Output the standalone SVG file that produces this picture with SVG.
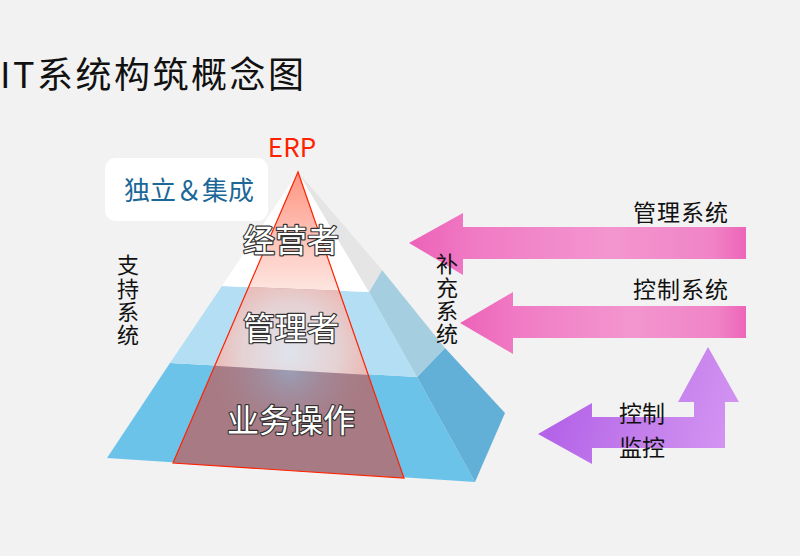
<svg xmlns="http://www.w3.org/2000/svg" width="800" height="556" viewBox="0 0 800 556">
<defs>
<style>
.cjk{font-family:"Noto Sans CJK SC","Noto Sans",sans-serif;}
.dark{fill:#111;}
.lvl{fill:#fff;stroke:#333;stroke-width:2.4;paint-order:stroke;stroke-linejoin:round;font-size:32px;text-anchor:middle;}
.side{font-size:22px;fill:#111;writing-mode:vertical-rl;letter-spacing:1.3px;}
.lbl{font-size:23px;fill:#111;}
</style>
<linearGradient id="pink" x1="0" y1="0" x2="1" y2="0">
<stop offset="0" stop-color="#ec62b8"/>
<stop offset="0.2" stop-color="#f07bc4"/>
<stop offset="0.6" stop-color="#f396cf"/>
<stop offset="0.9" stop-color="#f083c6"/>
<stop offset="1" stop-color="#ed65b9"/>
</linearGradient>
<linearGradient id="purple" gradientUnits="userSpaceOnUse" x1="560" y1="400" x2="730" y2="460">
<stop offset="0" stop-color="#b463e8"/>
<stop offset="0.5" stop-color="#c47fec"/>
<stop offset="1" stop-color="#d496f2"/>
</linearGradient>
<linearGradient id="topG" gradientUnits="userSpaceOnUse" x1="0" y1="172" x2="0" y2="290">
<stop offset="0" stop-color="#ff9581"/>
<stop offset="0.55" stop-color="#fdc3b8"/>
<stop offset="1" stop-color="#fde5e0"/>
</linearGradient>
<radialGradient id="midG" gradientUnits="userSpaceOnUse" cx="290" cy="352" r="105">
<stop offset="0" stop-color="#dfe3ec"/>
<stop offset="0.45" stop-color="#e5d2d4"/>
<stop offset="1" stop-color="#eea59b"/>
</radialGradient>
<radialGradient id="botG" gradientUnits="userSpaceOnUse" cx="290" cy="368" r="90">
<stop offset="0" stop-color="#98a4bf" stop-opacity="0.9"/>
<stop offset="1" stop-color="#a87a83" stop-opacity="0"/>
</radialGradient>
<clipPath id="tri"><polygon points="298,172 173,463 404,478"/></clipPath>
</defs>
<rect width="800" height="556" fill="#f2f2f2"/>

<text id="title" class="cjk dark" x="0" y="88" font-size="36" letter-spacing="2.5">IT系统构筑概念图</text>

<g id="pyramid">
<polygon points="170,363 417,377 475,482 107,458" fill="#6bc3ea"/>
<polygon points="417,377 445,348 505,413 475,482" fill="#62b0d8"/>
<polygon points="222,286 369,292 417,377 170,363" fill="#b4def3"/>
<polygon points="369,292 382,270 445,348 417,377" fill="#a5cfe0"/>
<polygon points="298,172 369,292 222,286" fill="#ffffff"/>
<polygon points="298,172 382,270 369,292" fill="#e5e5e5"/>
</g>

<g id="erp-triangle">
<g clip-path="url(#tri)">
<rect x="150" y="160" width="280" height="330" fill="#a87a83"/>
<polygon points="150,362 420,378 420,430 150,430" fill="url(#botG)"/>
<polygon points="150,283 420,294 420,378 150,362" fill="url(#midG)"/>
<polygon points="150,160 420,160 420,294 150,283" fill="url(#topG)"/>
</g>
<polygon points="298,172 173,463 404,478" fill="none" stroke="#ff2200" stroke-width="1.2"/>
<text class="cjk" x="292" y="157" font-size="26" fill="#ff2200" text-anchor="middle">ERP</text>
</g>

<g id="level-labels">
<text class="cjk lvl" x="291" y="252">经营者</text>
<text class="cjk lvl" x="291" y="340">管理者</text>
<text class="cjk lvl" x="291" y="432">业务操作</text>
</g>

<g id="badge">
<rect x="105" y="158" width="163" height="63" rx="11" fill="#ffffff"/>
<text class="cjk" x="189" y="200" font-size="26" fill="#1b6797" text-anchor="middle">独立＆集成</text>
</g>

<g id="connectors">
<polygon id="arrow-mgmt" points="409,243 463,213 463,227 746,227 746,259 463,259 463,275" fill="url(#pink)"/>
<polygon id="arrow-ctrl" points="460,323 513,292 513,306 746,306 746,338 513,338 513,354" fill="url(#pink)"/>
<polygon id="arrow-monitor" points="538,434 592,403 592,417 694,417 694,402 678,402 708,347 739,402 725,402 725,448 592,448 592,464" fill="url(#purple)"/>
</g>

<g id="support">
<text class="cjk side" x="128" y="254">支持系统</text>
</g>
<g id="supplement">
<text class="cjk side" x="447" y="253">补充系统</text>
</g>

<g id="arrow-labels">
<text class="cjk lbl" x="729" y="221" text-anchor="end" letter-spacing="1">管理系统</text>
<text class="cjk lbl" x="729" y="298" text-anchor="end" letter-spacing="1">控制系统</text>
<text class="cjk lbl" x="619" y="422">控制</text>
<text class="cjk lbl" x="619" y="456">监控</text>
</g>
</svg>
